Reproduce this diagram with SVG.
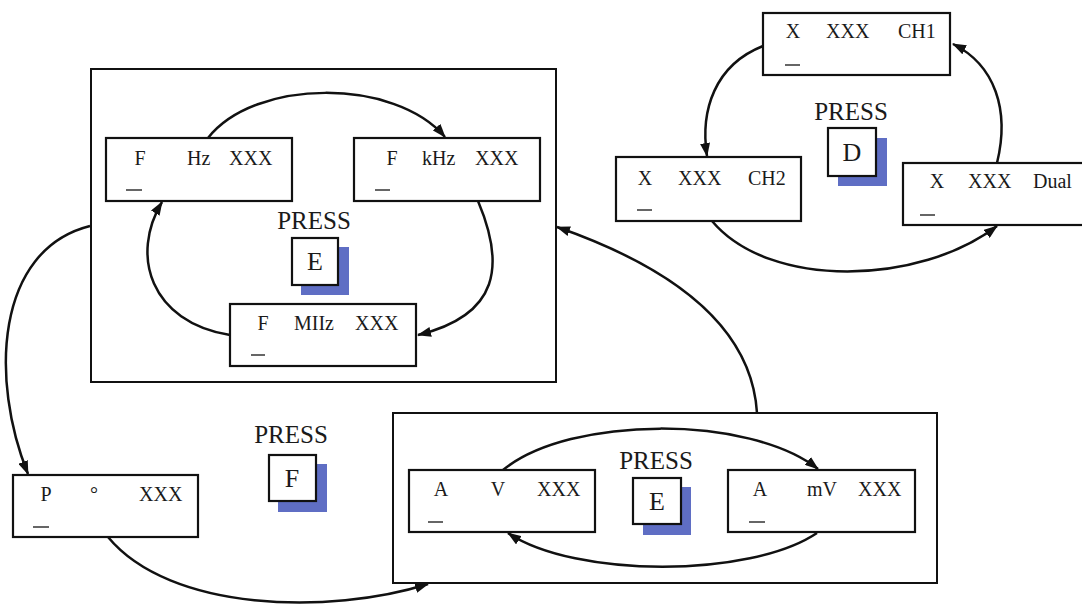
<svg xmlns="http://www.w3.org/2000/svg" width="1082" height="606" viewBox="0 0 1082 606">
<style>
.frame{fill:none;stroke:#111;stroke-width:2}
.box{fill:#fff;stroke:#111;stroke-width:2.2}
.t{font-family:"Liberation Serif","Times New Roman",serif;font-size:20px;fill:#1a1a1a}
.m{text-anchor:middle}
.press{font-family:"Liberation Serif","Times New Roman",serif;font-size:25px;fill:#1a1a1a;text-anchor:middle}
.key{font-family:"Liberation Serif","Times New Roman",serif;font-size:26px;fill:#1a1a1a;text-anchor:middle}
.kbox{fill:#fff;stroke:#111;stroke-width:2.2}
.shadow{fill:#5f6ec4}
.cur{stroke:#333;stroke-width:1.5}
.c{fill:none;stroke:#111;stroke-width:2.5}
</style>
<defs>
<marker id="ah" viewBox="0 0 14 10" refX="13" refY="5" markerWidth="14" markerHeight="10" markerUnits="userSpaceOnUse" orient="auto">
<path d="M0,0 L14,5 L0,10 z" fill="#111"/>
</marker>
</defs>
<rect width="1082" height="606" fill="#fff"/>

<g id="frame-f"><rect class="frame" x="91" y="69" width="465" height="313"/></g>
<g id="frame-a"><rect class="frame" x="393" y="413" width="544" height="170"/></g>

<g id="connectors">
<path class="c" marker-end="url(#ah)" d="M208,138 C255,78 395,78 445,137"/>
<path class="c" marker-end="url(#ah)" d="M478,201 C505,265 500,315 418,335"/>
<path class="c" marker-end="url(#ah)" d="M230,335 C150,322 130,255 162,202"/>
<path class="c" marker-end="url(#ah)" d="M763,46 C715,65 700,110 707,156"/>
<path class="c" marker-end="url(#ah)" d="M712,221 C770,290 920,285 997,226"/>
<path class="c" marker-end="url(#ah)" d="M997,163 C1010,110 995,65 953,44"/>
<path class="c" marker-end="url(#ah)" d="M757,413 C752,330 680,270 557,227"/>
<path class="c" marker-end="url(#ah)" d="M90,226 C-5,250 -10,380 28,474"/>
<path class="c" marker-end="url(#ah)" d="M108,537 C170,612 330,615 428,584"/>
<path class="c" marker-end="url(#ah)" d="M503,470 C570,415 750,415 818,469"/>
<path class="c" marker-end="url(#ah)" d="M817,533 C750,578 575,578 508,533"/>
</g>

<g id="node-hz">
<rect class="box" x="106" y="138" width="186" height="63"/>
<text class="t m" x="140" y="165">F</text>
<text class="t" x="187" y="165">Hz</text>
<text class="t" x="229" y="165">XXX</text>
<line class="cur" x1="126" y1="190" x2="142" y2="190"/>
</g>
<g id="node-khz">
<rect class="box" x="354" y="138" width="186" height="63"/>
<text class="t m" x="392" y="165">F</text>
<text class="t" x="422" y="165">kHz</text>
<text class="t" x="475" y="165">XXX</text>
<line class="cur" x1="375" y1="190" x2="390" y2="190"/>
</g>
<g id="node-mhz">
<rect class="box" x="230" y="304" width="186" height="62"/>
<text class="t m" x="263" y="330">F</text>
<text class="t" x="294" y="330">MIIz</text>
<text class="t" x="355" y="330">XXX</text>
<line class="cur" x1="251" y1="355" x2="265" y2="355"/>
</g>
<g id="press-e1">
<text class="press" x="314" y="229">PRESS</text>
<rect class="shadow" x="301" y="247" width="48" height="48"/>
<rect class="kbox" x="292" y="238" width="46" height="47"/>
<text class="key" x="315" y="270">E</text>
</g>

<g id="node-ch1">
<rect class="box" x="763" y="13" width="187" height="62"/>
<text class="t m" x="793" y="38">X</text>
<text class="t" x="826" y="38">XXX</text>
<text class="t" x="898" y="38">CH1</text>
<line class="cur" x1="785" y1="65" x2="800" y2="65"/>
</g>
<g id="node-ch2">
<rect class="box" x="616" y="157" width="185" height="64"/>
<text class="t m" x="645" y="185">X</text>
<text class="t" x="678" y="185">XXX</text>
<text class="t" x="748" y="185">CH2</text>
<line class="cur" x1="637" y1="210" x2="652" y2="210"/>
</g>
<g id="node-dual">
<rect class="box" x="903" y="163" width="184" height="62"/>
<text class="t m" x="937" y="188">X</text>
<text class="t" x="968" y="188">XXX</text>
<text class="t" x="1033" y="188">Dual</text>
<line class="cur" x1="920" y1="215" x2="935" y2="215"/>
</g>
<g id="press-d">
<text class="press" x="851" y="120">PRESS</text>
<rect class="shadow" x="838" y="138" width="49" height="48"/>
<rect class="kbox" x="828" y="128" width="48" height="48"/>
<text class="key" x="852" y="161">D</text>
</g>

<g id="node-p">
<rect class="box" x="13" y="475" width="185" height="62"/>
<text class="t m" x="46" y="501">P</text>
<text class="t m" x="94" y="501">°</text>
<text class="t" x="139" y="501">XXX</text>
<line class="cur" x1="33" y1="527" x2="49" y2="527"/>
</g>
<g id="press-f">
<text class="press" x="291" y="443">PRESS</text>
<rect class="shadow" x="278" y="464" width="49" height="48"/>
<rect class="kbox" x="269" y="455" width="47" height="46"/>
<text class="key" x="292" y="487">F</text>
</g>

<g id="node-v">
<rect class="box" x="409" y="470" width="186" height="62"/>
<text class="t m" x="441" y="496">A</text>
<text class="t m" x="498" y="496">V</text>
<text class="t" x="537" y="496">XXX</text>
<line class="cur" x1="428" y1="522" x2="443" y2="522"/>
</g>
<g id="node-mv">
<rect class="box" x="728" y="470" width="187" height="62"/>
<text class="t m" x="760" y="496">A</text>
<text class="t" x="807" y="496">mV</text>
<text class="t" x="858" y="496">XXX</text>
<line class="cur" x1="749" y1="522" x2="765" y2="522"/>
</g>
<g id="press-e2">
<text class="press" x="656" y="469">PRESS</text>
<rect class="shadow" x="643" y="487" width="48" height="48"/>
<rect class="kbox" x="633" y="478" width="48" height="46"/>
<text class="key" x="657" y="510">E</text>
</g>
</svg>
